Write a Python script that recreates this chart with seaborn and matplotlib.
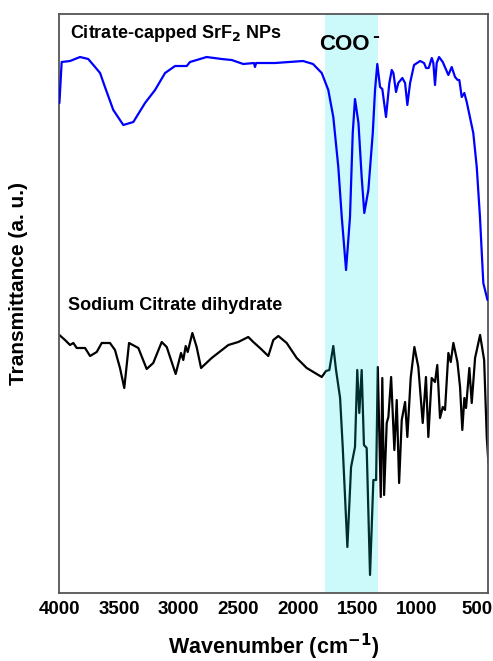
import numpy as np
import pandas as pd
import seaborn as sns
import matplotlib.pyplot as plt

# 1. Spectra (wavenumber in cm-1, transmittance a.u.)
srf2_wn = [4000, 3981, 3911, 3827, 3758, 3701, 3659, 3618, 3548, 3464, 3380, 3282,
           3198, 3114, 3030, 2932, 2905, 2765, 2639, 2555, 2458, 2368, 2360, 2350,
           2192, 1957, 1873, 1800, 1745, 1703, 1661, 1632, 1596, 1563, 1540, 1521,
           1492, 1465, 1443, 1409, 1372, 1353, 1334, 1311, 1292, 1261, 1233, 1213,
           1199, 1177, 1158, 1124, 1101, 1082, 1059, 1026, 975, 942, 925, 903, 877,
           864, 850, 836, 816, 785, 738, 710, 682, 660, 646, 626, 604, 584, 529,
           500, 473, 445, 410]
srf2_t = [490, 531, 532, 536, 534, 526, 520, 506, 483, 468, 471, 490,
          503, 520, 527, 527, 531, 536, 534, 533, 529, 530, 526, 530,
          530, 532, 529, 520, 503, 476, 426, 376, 323, 376, 460, 494,
          470, 416, 380, 403, 460, 503, 529, 506, 504, 476, 510, 523,
          520, 501, 510, 515, 510, 488, 510, 528, 532, 530, 525, 525, 535,
          530, 508, 530, 536, 531, 518, 526, 516, 513, 513, 496, 500, 491, 460,
          426, 376, 310, 293]

citrate_wn = [4000, 3953, 3911, 3883, 3855, 3785, 3743, 3687, 3645, 3576, 3534, 3492,
              3456, 3416, 3338, 3268, 3213, 3142, 3100, 3025, 2980, 2961, 2941, 2924,
              2885, 2849, 2812, 2723, 2583, 2500, 2416, 2374, 2318, 2248, 2206, 2164,
              2094, 2010, 1926, 1800, 1764, 1736, 1703, 1680, 1646, 1624, 1585, 1554,
              1521, 1502, 1485, 1465, 1446, 1423, 1395, 1367, 1344, 1330, 1305, 1292,
              1277, 1255, 1241, 1218, 1191, 1171, 1151, 1129, 1101, 1082, 1054, 1023,
              990, 953, 926, 906, 878, 850, 831, 808, 785, 766, 738, 718, 696, 662,
              640, 621, 604, 590, 562, 542, 514, 472, 438, 416, 402]
citrate_t = [258, 253, 248, 250, 245, 245, 237, 241, 250, 250, 243, 225,
             205, 250, 245, 224, 230, 251, 246, 219, 240, 233, 247, 241,
             260, 246, 225, 235, 248, 251, 256, 251, 245, 237, 253, 257,
             250, 235, 225, 216, 222, 223, 247, 223, 195, 146, 46, 126,
             146, 223, 180, 223, 148, 145, 18, 113, 113, 226, 96, 215,
             98, 170, 176, 216, 143, 193, 110, 173, 191, 156, 215, 246,
             226, 170, 216, 156, 215, 211, 228, 175, 186, 183, 240, 231, 250, 231,
             206, 163, 195, 185, 225, 190, 235, 258, 233, 156, 130]

x_ticks = [4000, 3500, 3000, 2500, 2000, 1500, 1000, 500]
band = (1770, 1330)

srf2 = pd.DataFrame({'wn': srf2_wn, 't': srf2_t})
citrate = pd.DataFrame({'wn': citrate_wn, 't': citrate_t})

# 2. Plot
sns.set_style('white')
plt.rcParams['font.family'] = ['Liberation Sans', 'DejaVu Sans']
plt.rcParams['font.weight'] = 'bold'
plt.rcParams['text.color'] = 'black'
plt.rcParams['axes.labelcolor'] = 'black'
plt.rcParams['xtick.labelcolor'] = 'black'

fig = plt.figure(figsize=(4.93, 6.61), dpi=100)
ax = fig.add_axes([0.1205, 0.1029, 0.8695, 0.8759])

sns.lineplot(data=citrate, x='wn', y='t', color='black', linewidth=1.6,
             ax=ax, zorder=1)
ax.axvspan(band[0], band[1], color='#00e8e8', alpha=0.2, lw=0, zorder=2)
sns.lineplot(data=srf2, x='wn', y='t', color='#0000ff', linewidth=1.6,
             ax=ax, zorder=3)

ax.set_xlim(4000, 405)
ax.set_ylim(0, 579)
ax.set_xticks(x_ticks)
ax.set_xticklabels([str(t) for t in x_ticks], fontsize=13.5, fontweight='bold',
                   color='black')
ax.set_xticks(np.arange(3750, 400, -500), minor=True)
ax.set_yticks([])
ax.tick_params(axis='x', which='major', direction='in', length=6, width=1.2,
               color='#555555', pad=6)
ax.tick_params(axis='x', which='minor', direction='in', length=3, width=1.2,
               color='#555555')
for s in ax.spines.values():
    s.set_color('#555555')
    s.set_linewidth(1.3)

ax.set_xlabel('Wavenumber (cm$^{\\mathbf{-1}}$)', fontsize=15.5, fontweight='bold',
              color='black')
ax.xaxis.set_label_coords(0.5, -0.067)
ax.set_ylabel('Transmittance (a. u.)', fontsize=15, fontweight='bold', color='black')
ax.yaxis.set_label_coords(-0.073, 0.535)

ax.text(0.025, 0.967, 'Citrate-capped SrF$_{\\mathbf{2}}$ NPs', transform=ax.transAxes,
        fontsize=13, fontweight='bold', va='center', ha='left', color='black')
ax.text(0.605, 0.948, 'COO', transform=ax.transAxes,
        fontsize=16, fontweight='bold', va='center', ha='left', color='black')
ax.text(0.73, 0.962, '-', transform=ax.transAxes,
        fontsize=15, fontweight='bold', va='center', ha='left', color='black')
ax.text(0.02, 0.497, 'Sodium Citrate dihydrate', transform=ax.transAxes,
        fontsize=13, fontweight='bold', va='center', ha='left', color='black')

fig.savefig('out.png', dpi=100, facecolor='white')
